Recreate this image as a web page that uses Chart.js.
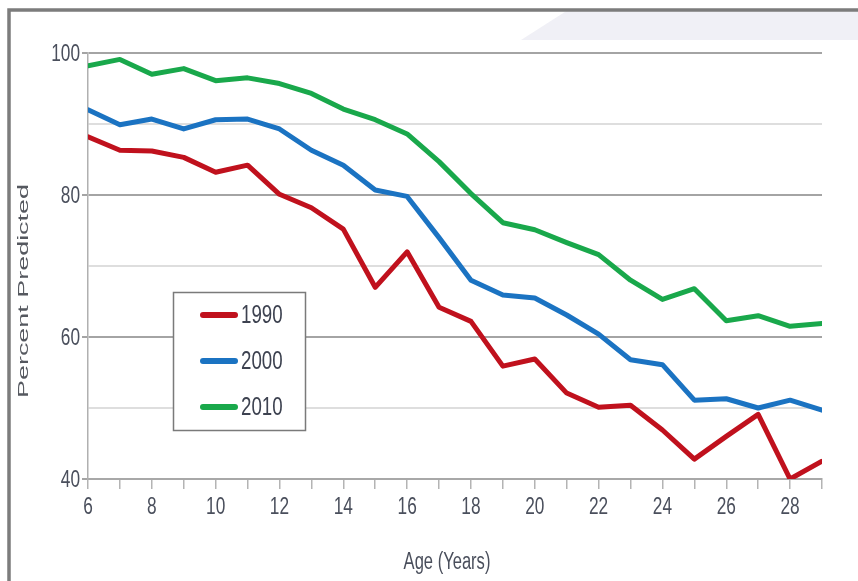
<!DOCTYPE html>
<html>
<head>
<meta charset="utf-8">
<script src="https://cdn.jsdelivr.net/npm/chart.js@4/dist/chart.umd.min.js"></script>
<style>
  html, body { margin: 0; padding: 0; background: #ffffff; }
  #wrap { width: 858px; height: 581px; position: relative; }
  canvas { display: block; }
</style>
</head>
<body>
<div id="wrap"><canvas id="c" width="858" height="581"></canvas></div>
<script>
// ---- data ----
const ages = [6, 7, 8, 9, 10, 11, 12, 13, 14, 15, 16, 17, 18, 19, 20, 21, 22, 23, 24, 25, 26, 27, 28, 29];
const seriesNames = ['1990', '2000', '2010'];
const v1990 = [88.2, 86.3, 86.2, 85.3, 83.2, 84.2, 80.1, 78.2, 75.2, 67.0, 72.0, 64.2, 62.2, 55.9, 56.9, 52.1, 50.1, 50.4, 46.9, 42.8, 46.0, 49.1, 40.0, 42.5];
const v2000 = [92.0, 89.9, 90.7, 89.3, 90.6, 90.7, 89.3, 86.3, 84.2, 80.7, 79.8, 74.0, 68.0, 65.9, 65.5, 63.1, 60.4, 56.8, 56.1, 51.1, 51.3, 50.0, 51.1, 49.7];
const v2010 = [98.2, 99.1, 97.0, 97.8, 96.1, 96.5, 95.7, 94.3, 92.1, 90.6, 88.6, 84.7, 80.2, 76.1, 75.1, 73.3, 71.6, 68.0, 65.3, 66.8, 62.3, 63.0, 61.5, 61.9];
const yTickLabels = [40, 60, 80, 100];
const xTickLabels = [6, 8, 10, 12, 14, 16, 18, 20, 22, 24, 26, 28];
const xTitle = 'Age (Years)';
const yTitle = 'Percent Predicted';

// ---- styles ----
const colors = ['#c0111d', '#1b73c2', '#19a84b'];
const baseFont = "'Liberation Sans', Arial, sans-serif";
const textColor = '#4a4f5c';
const squeeze = 0.72;

const toPts = vals => ages.map((a, i) => ({ x: a, y: vals[i] }));
const allVals = [v1990, v2000, v2010];

function narrowText(ctx, text, x, y, size, align, color) {
  ctx.save();
  ctx.translate(x, y);
  ctx.scale(squeeze, 1);
  ctx.font = size + 'px ' + baseFont;
  ctx.fillStyle = color;
  ctx.textAlign = align;
  ctx.textBaseline = 'middle';
  ctx.fillText(text, 0, 0);
  ctx.restore();
}

const decorPlugin = {
  id: 'decor',
  beforeDraw(chart) {
    const ctx = chart.ctx;
    ctx.save();
    ctx.fillStyle = '#ffffff';
    ctx.fillRect(0, 0, chart.width, chart.height);
    ctx.fillStyle = '#f0f0f6';
    ctx.beginPath();
    ctx.moveTo(521, 40);
    ctx.lineTo(568, 10);
    ctx.lineTo(858, 10);
    ctx.lineTo(858, 40);
    ctx.closePath();
    ctx.fill();
    ctx.strokeStyle = '#7c7c7c';
    ctx.lineWidth = 3.5;
    ctx.beginPath();
    ctx.moveTo(9, 581);
    ctx.lineTo(9, 10);
    ctx.lineTo(858, 10);
    ctx.stroke();
    ctx.restore();
  },
  afterDraw(chart) {
    const ctx = chart.ctx;
    const xs = chart.scales.x, ys = chart.scales.y;

    // tick labels placed by the library's scales
    yTickLabels.forEach(v => narrowText(ctx, String(v), 80, ys.getPixelForValue(v) + 1, 24, 'right', textColor));
    xTickLabels.forEach(v => narrowText(ctx, String(v), xs.getPixelForValue(v), 507, 24, 'center', textColor));

    // axis titles
    narrowText(ctx, xTitle, 447, 563, 23, 'center', textColor);

    ctx.save();
    ctx.translate(24, 291);
    ctx.rotate(-Math.PI / 2);
    ctx.font = "15px " + baseFont;
    const w = ctx.measureText(yTitle).width;
    ctx.scale(214 / w, 1);
    ctx.fillStyle = '#55585f';
    ctx.textAlign = 'center';
    ctx.textBaseline = 'middle';
    ctx.fillText(yTitle, 0, 0);
    ctx.restore();

    // legend box
    ctx.save();
    ctx.fillStyle = '#ffffff';
    ctx.fillRect(173, 292, 133, 139);
    ctx.strokeStyle = '#7a7a7a';
    ctx.lineWidth = 1.5;
    ctx.strokeRect(173.5, 292.5, 132, 138);
    chart.data.datasets.forEach((ds, i) => {
      const y = 315 + i * 46;
      ctx.strokeStyle = ds.borderColor;
      ctx.lineWidth = 6;
      ctx.lineCap = 'round';
      ctx.beginPath();
      ctx.moveTo(203, y);
      ctx.lineTo(235, y);
      ctx.stroke();
      narrowText(ctx, ds.label, 241, y + 1, 26, 'left', '#3d4250');
    });
    ctx.restore();
  }
};

new Chart(document.getElementById('c'), {
  type: 'line',
  data: {
    datasets: seriesNames.map((name, i) => ({
      label: name,
      data: toPts(allVals[i]),
      borderColor: colors[i],
      backgroundColor: colors[i],
      borderWidth: 5,
      pointRadius: 0,
      tension: 0,
      borderJoinStyle: 'round',
      borderCapStyle: 'round',
      fill: false
    }))
  },
  options: {
    responsive: false,
    animation: false,
    layout: { padding: { top: 53, right: 36, left: 0, bottom: 0 } },
    plugins: { legend: { display: false }, tooltip: { enabled: false } },
    scales: {
      x: {
        type: 'linear',
        min: 6,
        max: 29,
        afterFit: s => { s.height = 102; },
        ticks: { display: false, stepSize: 1, autoSkip: false },
        grid: { drawOnChartArea: false, drawTicks: true, tickLength: 10, color: '#b4b4b4', lineWidth: 1.5 },
        border: { display: true, color: '#a8a8a8', width: 2 },
        title: { display: false }
      },
      y: {
        min: 40,
        max: 100,
        afterFit: s => { s.width = 88; },
        ticks: { display: false, stepSize: 10 },
        grid: {
          drawTicks: true,
          tickLength: 6,
          color: c => (c.tick && c.tick.value % 20 === 0) ? '#a4a4a4' : '#dedede',
          tickColor: c => (c.tick && c.tick.value % 20 === 0) ? '#a4a4a4' : 'rgba(0,0,0,0)',
          lineWidth: 2
        },
        border: { display: true, color: '#b0b0b0', width: 1.5 }
      }
    }
  },
  plugins: [decorPlugin]
});
</script>
</body>
</html>
